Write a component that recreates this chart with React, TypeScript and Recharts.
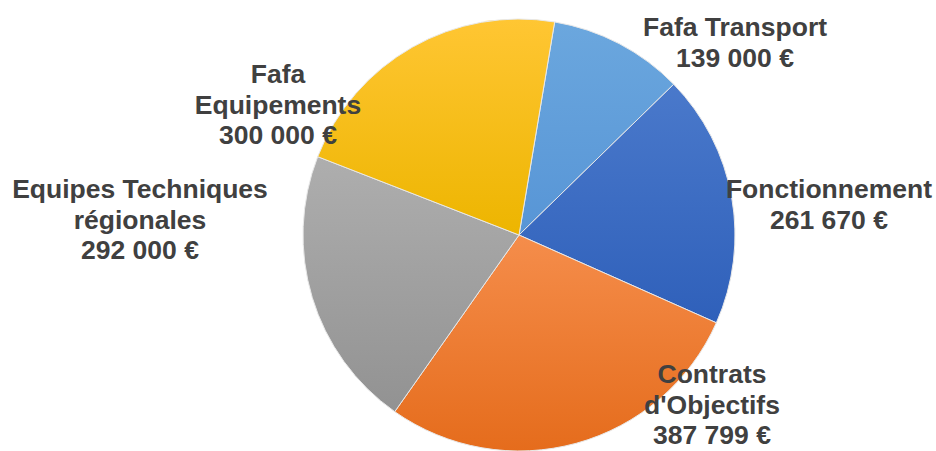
import React from "react";
import { PieChart, Pie, Cell } from "recharts";

const categories = [
  "Fafa Transport",
  "Fonctionnement",
  "Contrats d'Objectifs",
  "Equipes Techniques régionales",
  "Fafa Equipements",
];
const values = [139000, 261670, 387799, 292000, 300000];
const labelLines = [
  ["Fafa Transport", "139 000 €"],
  ["Fonctionnement", "261 670 €"],
  ["Contrats", "d'Objectifs", "387 799 €"],
  ["Equipes Techniques", "régionales", "292 000 €"],
  ["Fafa", "Equipements", "300 000 €"],
];

const data = categories.map((name, i) => ({ name, value: values[i] }));

const gradients = [
  ["#6BA7DE", "#5795D6"],
  ["#4A79CB", "#2F60BA"],
  ["#F58D4B", "#E56C1C"],
  ["#AEAEAE", "#929292"],
  ["#FFC633", "#EDB500"],
];

// label block placement relative to the pie centre (first baseline)
const labelLayout = [
  { dx: 216, dy: -199 },
  { dx: 310, dy: -37 },
  { dx: 193, dy: 148 },
  { dx: -379, dy: -37 },
  { dx: -241, dy: -152 },
];

const FONT = "'Liberation Sans', Arial, sans-serif";

const renderLabel = (props: any) => {
  const { cx, cy, index } = props;
  const lay = labelLayout[index];
  const lines = labelLines[index];
  const x = cx + lay.dx;
  const y = cy + lay.dy;
  return (
    <text
      x={x}
      y={y}
      textAnchor="middle"
      fill="#404040"
      fontFamily={FONT}
      fontWeight="bold"
      fontSize={26.5}
    >
      {lines.map((l, i) => (
        <tspan key={i} x={x} dy={i === 0 ? 0 : 30.5}>
          {l}
        </tspan>
      ))}
    </text>
  );
};

export default function App() {
  return (
    <div style={{ position: "absolute", left: 0, top: 0, background: "#fff" }}>
      <PieChart width={936} height={451} margin={{ top: 0, right: 0, bottom: 0, left: 0 }}>
        <defs>
          {gradients.map((g, i) => (
            <linearGradient key={i} id={`grad${i}`} x1="0" y1="0" x2="0" y2="1">
              <stop offset="0%" stopColor={g[0]} />
              <stop offset="100%" stopColor={g[1]} />
            </linearGradient>
          ))}
        </defs>
        <Pie
          data={data}
          dataKey="value"
          nameKey="name"
          cx={519}
          cy={235}
          outerRadius={216}
          startAngle={80.5}
          endAngle={-279.5}
          stroke="#e8e8e8"
          strokeWidth={1}
          label={renderLabel}
          labelLine={false}
          isAnimationActive={false}
        >
          {data.map((_, i) => (
            <Cell key={i} fill={`url(#grad${i})`} />
          ))}
        </Pie>
      </PieChart>
    </div>
  );
}
